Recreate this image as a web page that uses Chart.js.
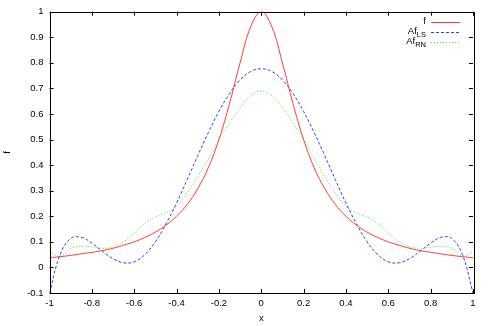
<!DOCTYPE html>
<html>
<head>
<meta charset="utf-8">
<script src="https://cdn.jsdelivr.net/npm/chart.js@4"></script>
<style>
  html, body { margin: 0; padding: 0; background: #fff; }
  canvas { display: block; }
</style>
</head>
<body>
<canvas id="plot" width="491" height="326"></canvas>
<script>
// sample positions along x (every 0.05)
const xs = [-1, -0.95, -0.9, -0.85, -0.8, -0.75, -0.7, -0.65, -0.6, -0.55, -0.5,
  -0.45, -0.4, -0.35, -0.3, -0.25, -0.2, -0.15, -0.1, -0.05, 0,
  0.05, 0.1, 0.15, 0.2, 0.25, 0.3, 0.35, 0.4, 0.45, 0.5,
  0.55, 0.6, 0.65, 0.7, 0.75, 0.8, 0.85, 0.9, 0.95, 1];

const fVals = [0.038, 0.042, 0.047, 0.053, 0.059, 0.066, 0.075, 0.087, 0.1, 0.117, 0.138,
  0.165, 0.2, 0.246, 0.308, 0.39, 0.5, 0.64, 0.8, 0.941, 1,
  0.941, 0.8, 0.64, 0.5, 0.39, 0.308, 0.246, 0.2, 0.165, 0.138,
  0.117, 0.1, 0.087, 0.075, 0.066, 0.059, 0.053, 0.047, 0.042, 0.038];

const lsVals = [-0.1, 0.05, 0.113, 0.118, 0.095, 0.063, 0.034, 0.018, 0.022, 0.05, 0.1,
  0.17, 0.252, 0.343, 0.437, 0.527, 0.61, 0.68, 0.733, 0.766, 0.777,
  0.766, 0.733, 0.68, 0.61, 0.527, 0.437, 0.343, 0.252, 0.17, 0.1,
  0.05, 0.022, 0.018, 0.034, 0.063, 0.095, 0.118, 0.113, 0.05, -0.1];

const rnVals = [0.062, 0.045, 0.074, 0.083, 0.08, 0.075, 0.08, 0.1, 0.135, 0.172, 0.197,
  0.213, 0.24, 0.29, 0.355, 0.425, 0.5, 0.565, 0.625, 0.672, 0.69,
  0.672, 0.625, 0.565, 0.5, 0.425, 0.355, 0.29, 0.24, 0.213, 0.197,
  0.172, 0.135, 0.1, 0.08, 0.075, 0.08, 0.083, 0.074, 0.045, 0.062];

const legendNames = [["f", ""], ["Af", "LS"], ["Af", "RN"]];
const lineColors = ["#ff3a3a", "#3a3aff", "#30e830"];
const lineDashes = [[], [3, 2], [1, 2]];

const FONT = '"Liberation Sans", Arial, Helvetica, sans-serif';

function pts(vals) {
  return xs.map((x, i) => ({ x, y: vals[i] }));
}

function fmt(v) {
  return String(Number(v.toFixed(1)));
}

// gnuplot-like frame: box with inward ticks on all four sides, plus legend
const framePlugin = {
  id: "frame",
  afterDraw(chart) {
    const { ctx, chartArea: a, scales } = chart;
    const len = 4;
    ctx.save();
    ctx.strokeStyle = "#000";
    ctx.lineWidth = 1;
    ctx.strokeRect(Math.round(a.left) + 0.5, Math.round(a.top) + 0.5,
      Math.round(a.right - a.left), Math.round(a.bottom - a.top));
    ctx.beginPath();
    scales.x.ticks.forEach((t) => {
      const px = Math.round(scales.x.getPixelForValue(t.value)) + 0.5;
      ctx.moveTo(px, a.bottom); ctx.lineTo(px, a.bottom - len);
      ctx.moveTo(px, a.top); ctx.lineTo(px, a.top + len);
    });
    scales.y.ticks.forEach((t) => {
      const py = Math.round(scales.y.getPixelForValue(t.value)) + 0.5;
      ctx.moveTo(a.left, py); ctx.lineTo(a.left + len, py);
      ctx.moveTo(a.right, py); ctx.lineTo(a.right - len, py);
    });
    ctx.stroke();

    // legend, right-aligned text with subscripts
    const textRight = a.right - 47;
    chart.data.datasets.forEach((ds, i) => {
      const y = a.top + 10 + i * 10;
      const [main, sub] = legendNames[i];
      ctx.font = "9.5px " + FONT;
      const wMain = ctx.measureText(main).width;
      ctx.font = "7.5px " + FONT;
      const wSub = sub ? ctx.measureText(sub).width : 0;
      ctx.fillStyle = "#000";
      ctx.textBaseline = "middle";
      ctx.textAlign = "left";
      ctx.font = "9.5px " + FONT;
      ctx.fillText(main, textRight - wSub - wMain, y);
      if (sub) {
        ctx.font = "7.5px " + FONT;
        ctx.fillText(sub, textRight - wSub, y + 3);
      }
      ctx.beginPath();
      ctx.strokeStyle = ds.borderColor;
      ctx.setLineDash(ds.borderDash || []);
      ctx.moveTo(textRight + 5, Math.round(y) + 0.5);
      ctx.lineTo(textRight + 34, Math.round(y) + 0.5);
      ctx.stroke();
      ctx.setLineDash([]);
    });
    ctx.restore();
  },
};

const datasets = [fVals, lsVals, rnVals].map((vals, i) => ({
  label: legendNames[i].join(""),
  data: pts(vals),
  borderColor: lineColors[i],
  borderWidth: 1,
  borderDash: lineDashes[i],
  pointRadius: 0,
  tension: 0.4,
  fill: false,
}));

new Chart(document.getElementById("plot"), {
  type: "line",
  data: { datasets },
  plugins: [framePlugin],
  options: {
    responsive: false,
    animation: false,
    devicePixelRatio: 1,
    layout: { padding: { top: 11, right: 18, left: 0, bottom: 0 } },
    plugins: { legend: { display: false }, tooltip: { enabled: false } },
    scales: {
      x: {
        type: "linear",
        min: -1,
        max: 1,
        grid: { display: false, drawTicks: false },
        border: { display: false },
        ticks: {
          stepSize: 0.2,
          color: "#000",
          padding: 5,
          maxRotation: 0,
          font: { family: FONT, size: 9.5 },
          callback: (v) => fmt(v),
        },
        title: {
          display: true,
          text: "x",
          color: "#000",
          padding: { top: 0, bottom: 2 },
          font: { family: FONT, size: 9.5 },
        },
        afterFit(scale) { scale.height = 33; },
      },
      y: {
        min: -0.1,
        max: 1,
        grid: { display: false, drawTicks: false },
        border: { display: false },
        ticks: {
          stepSize: 0.1,
          color: "#000",
          padding: 6,
          font: { family: FONT, size: 9.5 },
          callback: (v) => fmt(v),
        },
        title: {
          display: true,
          text: "f",
          color: "#000",
          padding: { top: 2, bottom: 0 },
          font: { family: FONT, size: 9.5 },
        },
        afterFit(scale) { scale.width = 49.5; },
      },
    },
  },
});
</script>
</body>
</html>
